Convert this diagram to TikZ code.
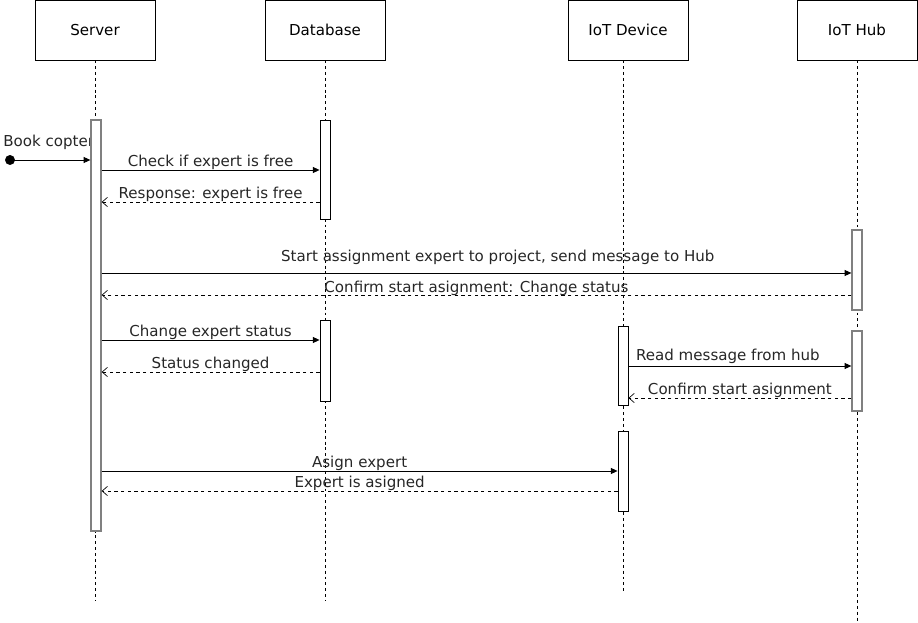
\documentclass[tikz,border=0pt]{standalone}
\usepackage{fontspec}
\setmainfont{DejaVu Sans}
\usetikzlibrary{arrows.meta}
\begin{document}
\begin{tikzpicture}[x=0.75pt,y=-0.75pt,font=\fontsize{11.3pt}{13pt}\selectfont,
  head/.style={draw,minimum width=90pt,minimum height=45pt,inner sep=0pt},
  life/.style={dash pattern=on 2.2pt off 2.2pt,thin},
  act/.style={draw,fill=white,minimum width=7.5pt,inner sep=0pt,line width=0.7pt},
  gact/.style={act,draw=black!50,line width=1pt},
  msg/.style={-{Triangle[length=5pt,width=4.5pt]},line width=0.5pt},
  ret/.style={-{Straight Barb[length=4pt,width=7pt]},dash pattern=on 2.5pt off 2.5pt,line width=0.5pt},
  lbl/.style={inner sep=0pt,text=black!85}]
\useasboundingbox (0,0) rectangle (918,623);
        \node[head](srv)at(95,30){Server};
        \node[head](db)at(325,30){Database};
        \node[head](dev)at(628,30){IoT Device};
        \node[head](hub)at(857,30){IoT Hub};
        \coordinate(srvend)at(95,601);
        \coordinate(dbend)at(325,601);
        \coordinate(devend)at(623,591);
        \coordinate(hubend)at(857,621);
        \draw[life](srv.south)--(srvend);
        \draw[life](db.south)--(dbend);
        \draw[life](dev.south-|devend)--(devend);
        \draw[life](hub.south)--(hubend);
        \node[lbl,anchor=west](booklbl)at(3,142){Book copter};
        \node[gact,minimum height=308.25pt](srvact)at(96,325.5){};
        \node[act,minimum height=74.25pt](dbact1)at(325,169.5){};
        \node[gact,minimum height=60pt](hubact1)at(857,270){};
        \node[act,minimum height=60.75pt](dbact2)at(325,360.5){};
        \node[act,minimum height=59.25pt](devact1)at(623,365.5){};
        \node[gact,minimum height=60pt](hubact2)at(857,371){};
        \node[act,minimum height=60pt](devact2)at(623,471){};
        \filldraw[black](10,160)circle(3.5pt)coordinate(start);
        \draw[msg](start)--(srvact.west|-start);
        \draw[msg](srvact.east|-0,170)--(dbact1.west|-0,170)node[lbl,midway,above=0pt]{Check if expert is free};
        \draw[ret](dbact1.west|-0,202)--(srvact.east|-0,202)node[lbl,midway,above=0pt]{Response: expert is free};
        \draw[msg](srvact.east|-0,273)--(hubact1.west|-0,273)node[lbl,midway,above=6pt,xshift=16pt]{Start assignment expert to project, send message to Hub};
        \draw[ret](hubact1.west|-0,295)--(srvact.east|-0,295)node[lbl,midway,above=-0.7pt]{Confirm start asignment: Change status};
        \draw[msg](srvact.east|-0,340)--(dbact2.west|-0,340)node[lbl,midway,above=0pt]{Change expert status};
        \draw[ret](dbact2.west|-0,372)--(srvact.east|-0,372)node[lbl,midway,above=0pt]{Status changed};
        \draw[msg](devact1.east|-0,366)--(hubact2.west|-0,366)node[lbl,midway,above=1.5pt,xshift=-9pt]{Read message from hub};
        \draw[ret](hubact2.west|-0,398)--(devact1.east|-0,398)node[lbl,midway,above=0pt]{Confirm start asignment};
        \draw[msg](srvact.east|-0,471)--(devact2.west|-0,471)node[lbl,midway,above=0pt]{Asign expert};
        \draw[ret](devact2.west|-0,491)--(srvact.east|-0,491)node[lbl,midway,above=0pt]{Expert is asigned};
\end{tikzpicture}
\end{document}
